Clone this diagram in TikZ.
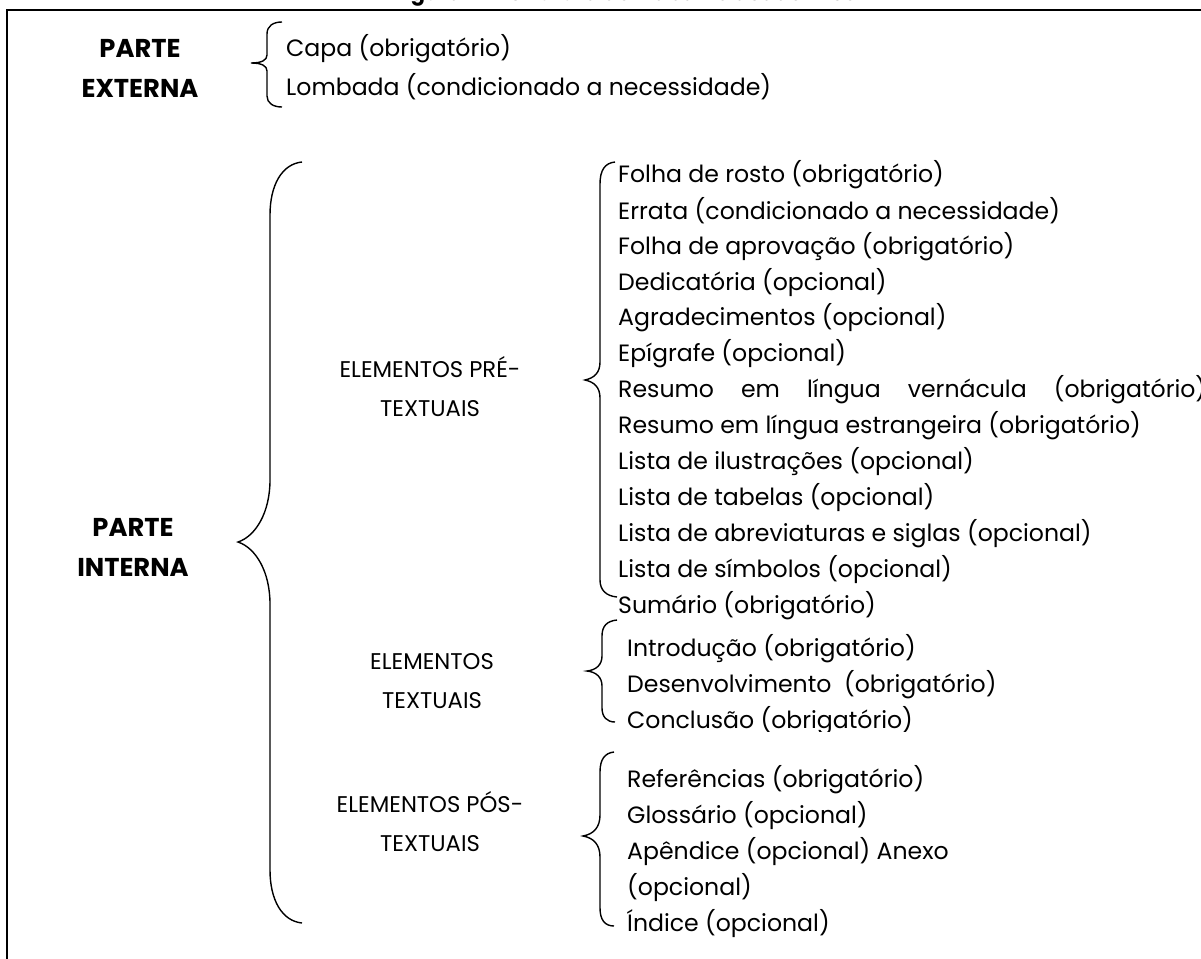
\documentclass[tikz,border=0pt]{standalone}
\usepackage{fontspec}
\setmainfont{Poppins}
\begin{document}
\begin{tikzpicture}[x=1pt,y=-1pt,
  item/.style={anchor=west,inner sep=0pt,font=\fontsize{23.6}{27}\selectfont},
  head/.style={align=center,inner sep=0pt,font=\fontsize{22.7}{39}\selectfont},
  part/.style={align=center,inner sep=0pt,font=\fontsize{25.8}{40}\selectfont\bfseries},
  brace/.style={line width=1.4pt},
  frame/.style={line width=2pt}]
\clip (0,0) rectangle (1201,958);
\useasboundingbox (0,0) rectangle (1201,958);
\fill[white] (0,0) rectangle (1201,958);
% title (cut off at the top)
\node[font=\fontsize{21}{24}\selectfont\bfseries,anchor=base,inner sep=0pt] (title) at (625,1) {Figura 1 – Estrutura do trabalho acadêmico};
% frame
\draw[frame] (7,1000) -- (7,10) -- (1250,10);
% PARTE EXTERNA
\node[part] (ext) at (140,68) {PARTE\\EXTERNA};
\draw[brace] (282,22) .. controls (273,22) and (267,26) .. (267,34) -- (267,55) .. controls (267,60) and (262,63) .. (251,63) .. controls (262,63) and (267,66) .. (267,71) -- (267,96) .. controls (267,103) and (273,107) .. (282,107);
\node[item] (capa) at (286,49) {Capa (obrigatório)};
\node[item] (lomb) at (286,87) {Lombada (condicionado a necessidade)};
% PARTE INTERNA
\node[part] (int) at (133,547) {PARTE\\INTERNA};
\draw[brace] (302,162) .. controls (282,164) and (270,185) .. (270,215) -- (270,480) .. controls (270,512) and (256,536) .. (238,542) .. controls (256,548) and (270,572) .. (270,604) -- (270,870) .. controls (270,900) and (282,921) .. (302,923);
% pre-textuais
\node[head] (pre) at (430,387) {ELEMENTOS PRÉ-\\TEXTUAIS};
\draw[brace] (615,162) .. controls (605,163) and (600,170) .. (600,184) -- (600,362) .. controls (600,373) and (594,378) .. (585,380) .. controls (594,382) and (600,387) .. (600,398) -- (600,580) .. controls (600,590) and (606,596) .. (617,597);
\node[item] (p1) at (618,175) {Folha de rosto (obrigatório)};
\node[item] (p2) at (618,211) {Errata (condicionado a necessidade)};
\node[item] (p3) at (618,247) {Folha de aprovação (obrigatório)};
\node[item] (p4) at (618,283) {Dedicatória (opcional)};
\node[item] (p5) at (618,318) {Agradecimentos (opcional)};
\node[item] (p6) at (618,354) {Epígrafe (opcional)};
\node[item] (p7) at (618,390) {\makebox[588pt][s]{Resumo em língua vernácula (obrigatório)}};
\node[item] (p8) at (618,426) {Resumo em língua estrangeira (obrigatório)};
\node[item] (p9) at (618,462) {Lista de ilustrações (opcional)};
\node[item] (p10) at (618,498) {Lista de tabelas (opcional)};
\node[item] (p11) at (618,534) {Lista de abreviaturas e siglas (opcional)};
\node[item] (p12) at (618,570) {Lista de símbolos (opcional)};
\node[item] (p13) at (618,606) {Sumário (obrigatório)};
% textuais
\node[head] (txt) at (432,681) {ELEMENTOS\\TEXTUAIS};
\draw[brace] (617,620) .. controls (607,621) and (602,626) .. (602,636) -- (602,656) .. controls (602,665) and (596,670) .. (587,671) .. controls (596,672) and (602,677) .. (602,686) -- (602,708) .. controls (602,717) and (607,722) .. (615,722);
\node[item] (t1) at (627,649) {Introdução (obrigatório)};
\node[item] (t2) at (627,685) {Desenvolvimento\ \ (obrigatório)};
\begin{scope}
\clip (600,700) rectangle (1000,731);
\node[item] (t3) at (627,721) {Conclusão (obrigatório)};
\end{scope}
% pos-textuais
\node[head] (pos) at (430,822) {ELEMENTOS PÓS-\\TEXTUAIS};
\draw[brace] (614,752) .. controls (605,753) and (600,759) .. (600,772) -- (600,815) .. controls (600,827) and (594,834) .. (583,836) .. controls (594,838) and (600,845) .. (600,857) -- (600,908) .. controls (600,920) and (605,926) .. (614,926);
\node[item] (s1) at (627,780) {Referências (obrigatório)};
\node[item] (s2) at (627,816) {Glossário (opcional)};
\node[item] (s3) at (627,852) {Apêndice (opcional) Anexo};
\node[item] (s4) at (627,888) {(opcional)};
\node[item] (s5) at (627,924) {Índice (opcional)};
\end{tikzpicture}
\end{document}
